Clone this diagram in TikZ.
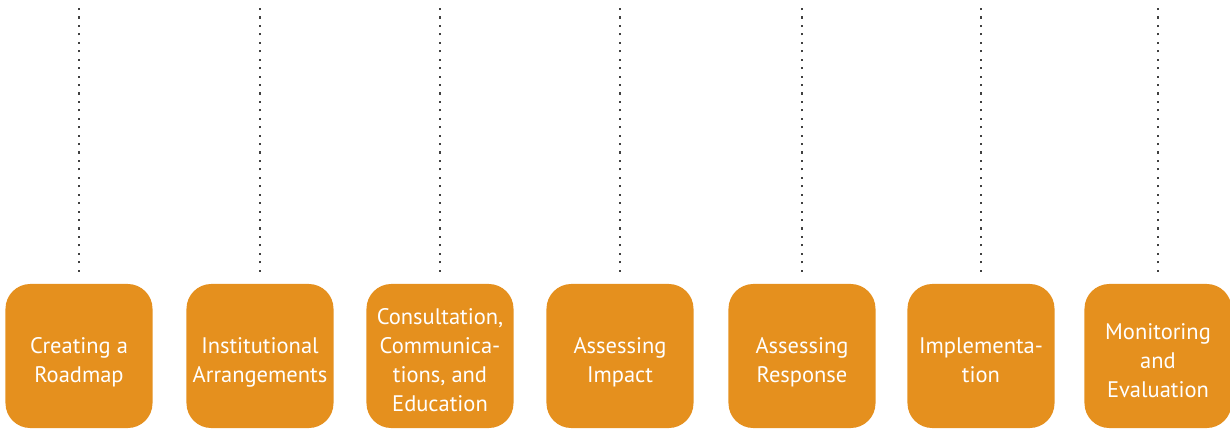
\documentclass[tikz,border=0pt]{standalone}
\usepackage{fontspec}
\setmainfont{PT Sans}
\definecolor{stepfill}{HTML}{E5901E}
\definecolor{dotgray}{HTML}{404040}
\begin{document}
\begin{tikzpicture}[x=0.025cm,y=-0.025cm,
  phase/.style={fill=stepfill,rounded corners=0.62cm,minimum width=3.675cm,minimum height=3.6cm,
    inner sep=0pt,text=white,align=center,font=\fontsize{16}{20.6}\selectfont},
  guide/.style={dotgray,line width=1.5pt,dash pattern=on 1.5pt off 4.5pt,shorten <=0.3cm}]
\useasboundingbox(0,0)rectangle(1230,430);
% one box per phase, with its dotted guide running up to the top
\foreach \n/\x/\txt in {1/79/{Creating a\\Roadmap},2/260/{Institutional\\Arrangements},
  3/440/{Consultation,\\Communica-\\tions, and\\Education},4/620/{Assessing\\Impact},
  5/802/{Assessing\\Response},6/981/{Implementa-\\tion},7/1158/{Monitoring\\and\\Evaluation}}{
  \node[phase](p\n) at (\x,356){\raisebox{-9pt}[0pt][0pt]{\begin{tabular}{@{}c@{}}\txt\end{tabular}}};
  \coordinate(t\n) at (\x,8);
  \draw[guide](p\n)--(t\n);
}
\end{tikzpicture}
\end{document}
